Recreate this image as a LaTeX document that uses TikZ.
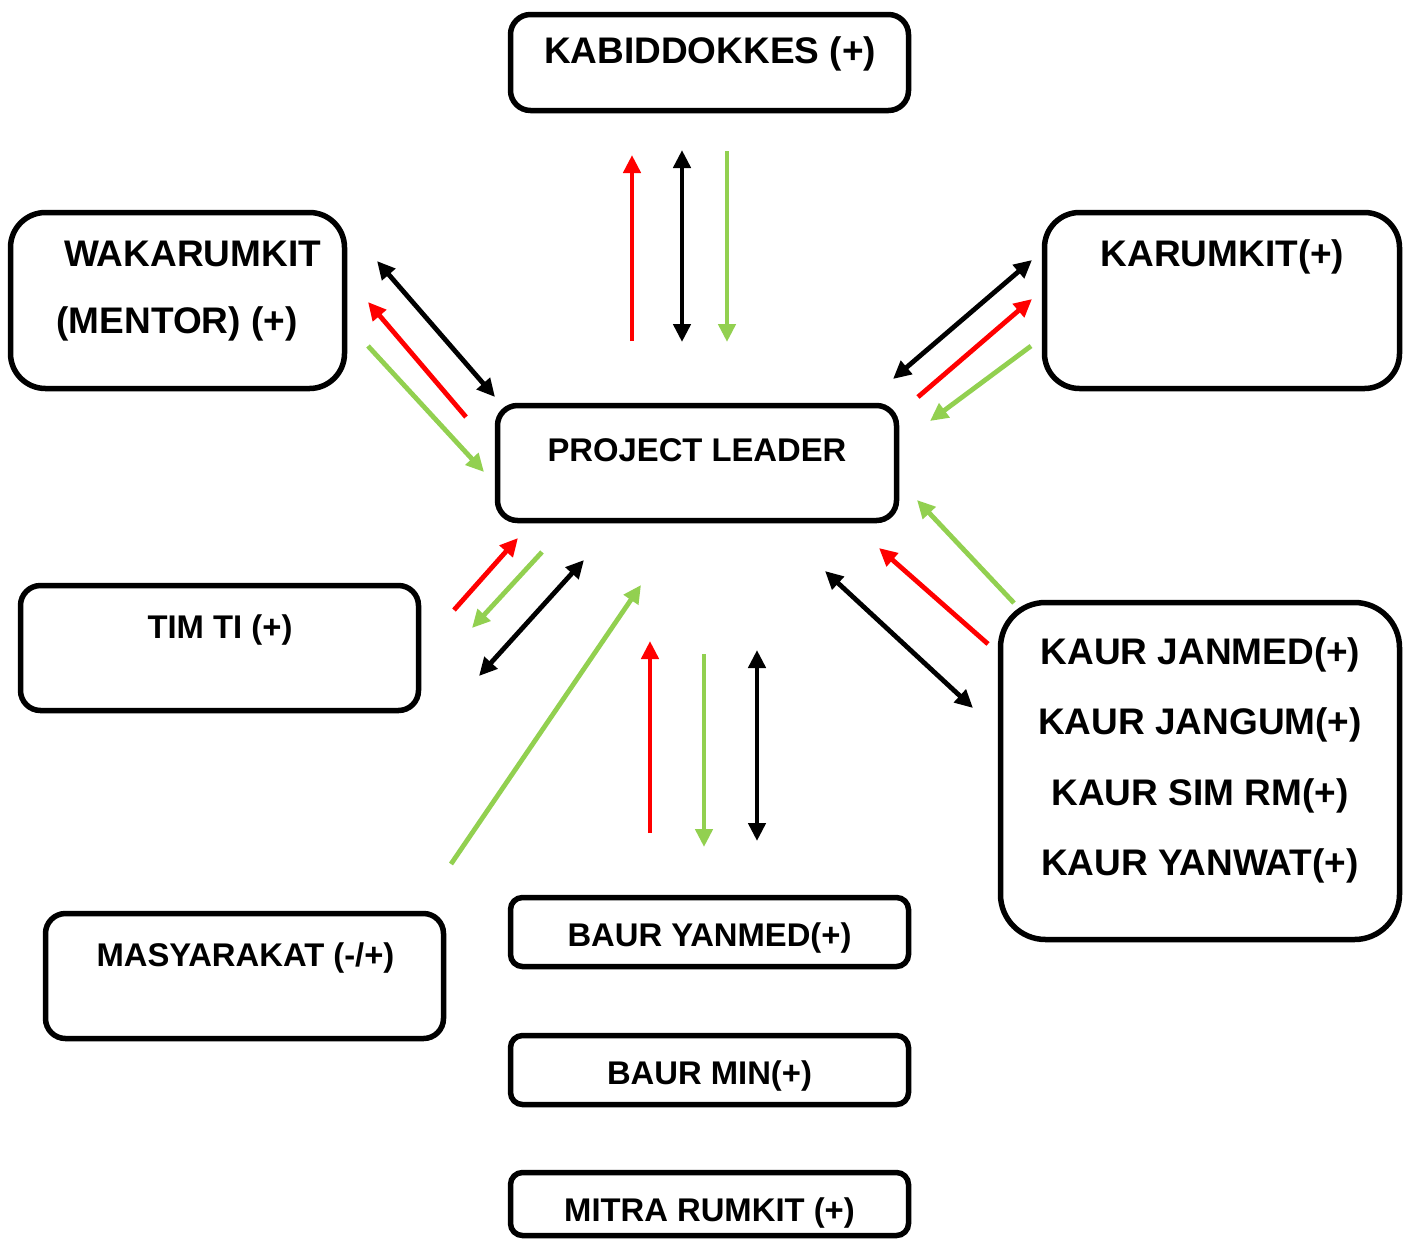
\documentclass[tikz,border=0pt]{standalone}
\usepackage{fontspec}
\setmainfont{Liberation Sans}
\usetikzlibrary{arrows.meta}
\definecolor{lgreen}{HTML}{92D050}
\definecolor{ared}{HTML}{FF0000}
\begin{document}
\begin{tikzpicture}[x=1pt,y=-1pt,
  box/.style={draw, line width=5.5pt, rounded corners=#1, inner sep=0pt},
  big/.style={anchor=base, inner sep=0pt, font=\fontsize{37}{44}\selectfont\bfseries},
  small/.style={anchor=base, inner sep=0pt, font=\fontsize{32.8}{39}\selectfont\bfseries},
  arr/.style={line width=4.8pt, -{Triangle[length=18pt,width=17pt]}},
  darr/.style={line width=4.8pt, {Triangle[length=18pt,width=17pt]}-{Triangle[length=18pt,width=17pt]}},
  rd/.style={arr, ared},
  gr/.style={arr, lgreen},
  bk/.style={darr, black}]
\useasboundingbox (0,0) rectangle (1411,1254);
\fill[white] (0,0) rectangle (1411,1254);
% boxes
\node[box=20pt, minimum width=398pt, minimum height=96pt] (kab) at (709.5,62.5) {};
\node[box=35pt, minimum width=334pt, minimum height=176pt] (wak) at (177.5,300.5) {};
\node[box=35pt, minimum width=355pt, minimum height=176pt] (kar) at (1222,300.5) {};
\node[box=20pt, minimum width=399pt, minimum height=115pt] (pl) at (697,463) {};
\node[box=20pt, minimum width=398pt, minimum height=125pt] (tim) at (219.5,648) {};
\node[box=45pt, minimum width=399pt, minimum height=337pt] (kaur) at (1200,771) {};
\node[box=20pt, minimum width=398pt, minimum height=125pt] (mas) at (244.5,976) {};
\node[box=12pt, minimum width=398pt, minimum height=69pt] (by) at (709.5,932) {};
\node[box=12pt, minimum width=398pt, minimum height=69pt] (bm) at (709.5,1070) {};
\node[box=12pt, minimum width=398pt, minimum height=63pt] (mr) at (709.5,1204) {};
% texts
\node[big] (tkab) at (710,63) {KABIDDOKKES (+)};
\node[big] (twak1) at (192.5,266) {WAKARUMKIT};
\node[big] (twak2) at (177,333) {(MENTOR) (+)};
\node[big] (tkar) at (1222.5,266) {KARUMKIT(+)};
\node[small] (tpl) at (697,461) {PROJECT LEADER};
\node[small] (ttim) at (220,638) {TIM TI (+)};
\node[big] (tk1) at (1200.5,664) {KAUR JANMED(+)};
\node[big] (tk2) at (1200,734) {KAUR JANGUM(+)};
\node[big] (tk3) at (1200,805) {KAUR SIM RM(+)};
\node[big] (tk4) at (1200,875) {KAUR YANWAT(+)};
\node[small] (tmas) at (245.5,966) {MASYARAKAT (-/+)};
\node[small] (tby) at (709.5,946) {BAUR YANMED(+)};
\node[small] (tbm) at (709.5,1084) {BAUR MIN(+)};
\node[small] (tmr) at (709.5,1221) {MITRA RUMKIT (+)};
% arrow end coordinates
\coordinate (a1s) at (632,341); \coordinate (a1e) at (632,155);
\coordinate (a2s) at (682,150); \coordinate (a2e) at (682,342);
\coordinate (a3s) at (727,151); \coordinate (a3e) at (727,342);
\coordinate (b1s) at (377,261); \coordinate (b1e) at (495,397);
\coordinate (b2s) at (466,417); \coordinate (b2e) at (368,302);
\coordinate (b3s) at (368,346); \coordinate (b3e) at (484,472);
\coordinate (c1s) at (893,379); \coordinate (c1e) at (1032,260);
\coordinate (c2s) at (918,397); \coordinate (c2e) at (1032,299);
\coordinate (c3s) at (1031,346); \coordinate (c3e) at (930,421);
\coordinate (d1s) at (454,610); \coordinate (d1e) at (518,538);
\coordinate (d2s) at (542,552); \coordinate (d2e) at (472,628);
\coordinate (d3s) at (479,676); \coordinate (d3e) at (584,560);
\coordinate (e1s) at (451,864); \coordinate (e1e) at (641,585);
\coordinate (f1s) at (650,833); \coordinate (f1e) at (650,641);
\coordinate (f2s) at (704,654); \coordinate (f2e) at (704,847);
\coordinate (f3s) at (757,650); \coordinate (f3e) at (757,841);
\coordinate (g1s) at (1014,603); \coordinate (g1e) at (917,500);
\coordinate (g2s) at (988,644); \coordinate (g2e) at (879,548);
\coordinate (g3s) at (825,571); \coordinate (g3e) at (973,708);
% arrows
\draw[rd] (a1s) -- (a1e);
\draw[bk] (a2s) -- (a2e);
\draw[gr] (a3s) -- (a3e);
\draw[bk] (b1s) -- (b1e);
\draw[rd] (b2s) -- (b2e);
\draw[gr] (b3s) -- (b3e);
\draw[bk] (c1s) -- (c1e);
\draw[rd] (c2s) -- (c2e);
\draw[gr] (c3s) -- (c3e);
\draw[rd] (d1s) -- (d1e);
\draw[gr] (d2s) -- (d2e);
\draw[bk] (d3s) -- (d3e);
\draw[gr] (e1s) -- (e1e);
\draw[rd] (f1s) -- (f1e);
\draw[gr] (f2s) -- (f2e);
\draw[bk] (f3s) -- (f3e);
\draw[gr] (g1s) -- (g1e);
\draw[rd] (g2s) -- (g2e);
\draw[bk] (g3s) -- (g3e);
\end{tikzpicture}
\end{document}
